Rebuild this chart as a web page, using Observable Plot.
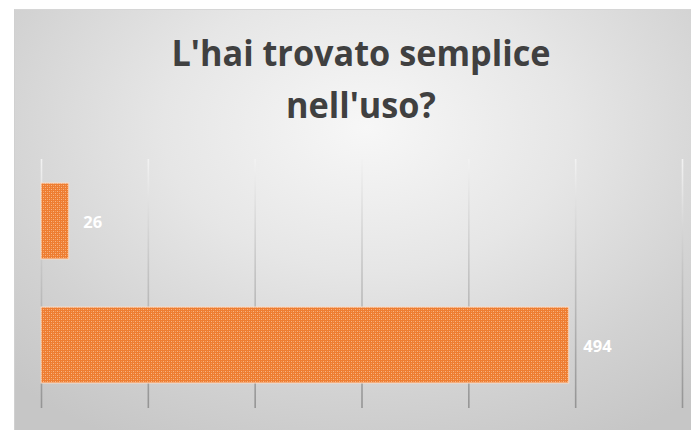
<!DOCTYPE html>
<html>
<head>
<meta charset="utf-8">
<script src="https://cdn.jsdelivr.net/npm/d3@7"></script>
<script src="https://cdn.jsdelivr.net/npm/@observablehq/plot@0.6"></script>
<style>
  html, body { margin: 0; padding: 0; background: #ffffff; }
  #page { position: relative; width: 691px; height: 430px; overflow: hidden; background: #ffffff; }
  #frame {
    position: absolute; left: 14px; top: 9px; width: 677px; height: 421px;
    border-top: 1px solid #d6d6d6; border-left: 1px solid #d0d0d0; box-sizing: border-box;
    background: radial-gradient(ellipse 75% 85% at 52% 28%, #f7f7f7 0%, #e6e6e6 40%, #d2d2d2 75%, #c6c6c6 100%);
  }
  #title {
    position: absolute; left: 0; top: 27px; width: 722px;
    font-family: "Open Sans", sans-serif; font-weight: 700; font-size: 35px; line-height: 52px;
    color: #404040; text-align: center; white-space: nowrap;
    transform-origin: 361px 0;
  }
  #chart { position: absolute; left: 0; top: 150px; }
  #chart svg { background: transparent; overflow: visible; }
</style>
</head>
<body>
<div id="page">
  <div id="frame"></div>
  <div id="title"><div id="t1">L'hai trovato semplice</div><div>nell'uso?</div></div>
  <div id="chart"></div>
</div>
<script>
const categories = ["No", "Sì"];
const values = [26, 494];
const xTicks = [0, 100, 200, 300, 400, 500, 600];

const data = categories.map((c, i) => ({category: c, value: values[i]}));

const plot = Plot.plot({
  width: 691,
  height: 280,
  marginLeft: 41,
  marginRight: 9,
  marginTop: 9,
  marginBottom: 22,
  style: {background: "transparent"},
  x: {domain: [0, 600], axis: null},
  y: {domain: categories, range: [33, 234], paddingInner: 0.385, paddingOuter: 0, axis: null},
  marks: [
    Plot.gridX(xTicks, {stroke: "url(#gridGrad)", strokeOpacity: 1, strokeWidth: 1.6}),
    Plot.barX(data, {x: "value", y: "category", fill: "url(#orangePat)", stroke: "#fadcc6", strokeWidth: 1}),
    Plot.text(data, {x: "value", y: "category", text: d => String(d.value), textAnchor: "start", dx: 14, dy: 1,
      fill: "#ffffff", fontSize: 16.5, fontWeight: 700, fontFamily: "Open Sans"})
  ]
});

const ns = "http://www.w3.org/2000/svg";
const defs = document.createElementNS(ns, "defs");
defs.innerHTML = `
  <linearGradient id="gridGrad" gradientUnits="userSpaceOnUse" x1="0" y1="9" x2="0" y2="258">
    <stop offset="0" stop-color="#f2f2f2"/>
    <stop offset="0.45" stop-color="#c4c4c4"/>
    <stop offset="1" stop-color="#949494"/>
  </linearGradient>
  <pattern id="orangePat" patternUnits="userSpaceOnUse" width="4" height="4">
    <rect width="4" height="4" fill="#ee7d31"/>
    <rect x="1" y="1" width="1" height="1" fill="#f7b585"/>
    <rect x="3" y="3" width="1" height="1" fill="#f7b585"/>
    <rect x="1" y="3" width="1" height="1" fill="#f29a5c"/>
    <rect x="3" y="1" width="1" height="1" fill="#f29a5c"/>
  </pattern>`;
plot.insertBefore(defs, plot.firstChild);
document.getElementById("chart").appendChild(plot);

// fit title width to reference (line 1 ≈ 379px wide)
const t1 = document.getElementById("t1");
const range = document.createRange();
range.selectNodeContents(t1);
const w = range.getBoundingClientRect().width;
if (w > 0) document.getElementById("title").style.transform = `scaleX(${379 / w})`;
</script>
</body>
</html>
